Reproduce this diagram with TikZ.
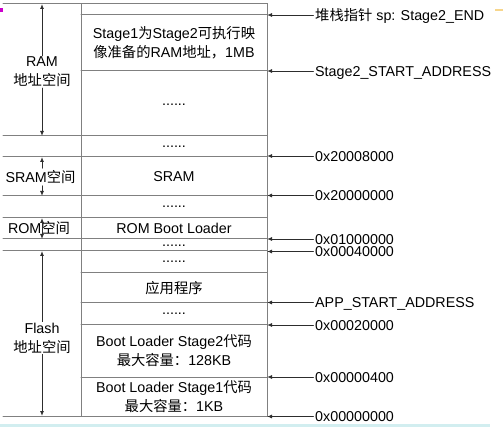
\documentclass[tikz,border=0pt]{standalone}
\usepackage{fontspec}
\setmainfont{Liberation Sans}
\newfontfamily\cjkfont{Noto Sans CJK SC}
\newcommand{\zh}[1]{{\cjkfont #1}}
\usetikzlibrary{arrows.meta}
\definecolor{boxgray}{RGB}{128,128,128}
\definecolor{ptrgray}{RGB}{45,45,45}
\definecolor{markmagenta}{RGB}{204,0,204}
\definecolor{markorange}{RGB}{247,214,140}
\definecolor{markcyan}{RGB}{210,238,240}

\begin{document}
\begin{tikzpicture}[x=1pt,y=-1pt,line cap=round,
  font=\fontsize{14.3pt}{19pt}\selectfont,
  sep/.style={boxgray,line width=1pt},
  ptr/.style={ptrgray,line width=0.9pt,-{Latex[length=5pt,width=4pt]}},
  dim/.style={ptrgray,line width=0.9pt,{Latex[length=5pt,width=4pt]}-{Latex[length=5pt,width=4pt]}},
  addr/.style={anchor=west,inner xsep=1.5pt,inner ysep=0pt,text height=10.2pt,text depth=0pt},
  cell/.style={align=center,inner sep=0pt},
  region/.style={align=center,fill=white,inner sep=1pt}]
  \useasboundingbox (0,0) rectangle (503,427);

  % screenshot edge marks
  \fill[markmagenta] (0,8.3) rectangle (3.4,11.7);
  \fill[markorange] (495,9.5) rectangle (503,11.5);
  \fill[markcyan] (0,424) rectangle (490,427);

  % --- memory column ---
  \node[draw=boxgray,line width=1pt,minimum width=186pt,minimum height=412pt,inner sep=0pt,outer sep=0pt] (mem) at (174,210) {};

  % separators out to the left edge
  \foreach \y in {4,136,157,196,218,239,251,416}
    \draw[sep] (3,\y) -- (267,\y);
  % separators inside the column only
  \foreach \y in {15,71,273,303,325,377}
    \draw[sep] (81,\y) -- (267,\y);

  % cell contents
  \node[cell] (stage1ram) at (174,43) {Stage1\zh{为}Stage2\zh{可执行映}\\\zh{像准备的}RAM\zh{地址，}1MB};
  \node[cell] (dotsA) at (174,105) {......};
  \node[cell] (dotsB) at (174,147) {......};
  \node[cell] (sram) at (174,176.5) {SRAM};
  \node[cell] (dotsC) at (174,207) {......};
  \node[cell,text height=10.2pt,text depth=0pt] (romboot) at (174,228) {ROM Boot Loader};
  \node[cell] (dotsD) at (174,245.5) {......};
  \node[cell] (dotsE) at (174,262) {......};
  \node[cell] (app) at (174,288) {\zh{应用程序}};
  \node[cell] (dotsF) at (174,314) {......};
  \node[cell] (stage2code) at (174,351) {Boot Loader Stage2\zh{代码}\\\zh{最大容量：}128KB};
  \node[cell] (stage1code) at (174,396.5) {Boot Loader Stage1\zh{代码}\\\zh{最大容量：}1KB};

  % --- address pointers ---
  \node[addr] (sp) at (313.5,15) {\zh{堆栈指针} sp: Stage2\_END};
  \node[addr] (s2start) at (313.5,71) {Stage2\_START\_ADDRESS};
  \node[addr] (a20008) at (313.5,156) {0x20008000};
  \node[addr] (a20000) at (313.5,195.5) {0x20000000};
  \node[addr] (a01000) at (313.5,239) {0x01000000};
  \node[addr] (a00040) at (313.5,251.5) {0x00040000};
  \node[addr] (appstart) at (313.5,302.5) {APP\_START\_ADDRESS};
  \node[addr] (a00020) at (313.5,325) {0x00020000};
  \node[addr] (a00004) at (313.5,377) {0x00000400};
  \node[addr] (a00000) at (313.5,416.5) {0x00000000};
  \foreach \a in {sp,s2start,a20008,a20000,a01000,a00040,appstart,a00020,a00004,a00000}
    \draw[ptr] (\a.west) -- (\a.west -| mem.east);

  % --- address spaces on the left ---
  \node[region] (ramlbl) at (42,72) {RAM\\\zh{地址空间}};
  \coordinate (ramtop) at (42,4);
  \coordinate (rambot) at (42,136);
  \draw[ptr] (ramlbl) -- (ramtop);
  \draw[ptr] (ramlbl) -- (rambot);

  \node[region,inner sep=2pt] (sramlbl) at (40.5,177) {SRAM\zh{空间}};
  \coordinate (sramtop) at (42,157);
  \coordinate (srambot) at (42,196);
  \draw[ptr] (sramlbl.north -| sramtop) -- (sramtop);
  \draw[ptr] (sramlbl.south -| srambot) -- (srambot);

  \node[cell] (romlbl) at (39,228.5) {ROM\zh{空间}};
  \coordinate (romtop) at (42,218);
  \coordinate (rombot) at (42,239);
  \draw[dim] (romtop) -- (rombot);

  \node[region] (flashlbl) at (42,338) {Flash\\\zh{地址空间}};
  \coordinate (flashtop) at (42,251);
  \coordinate (flashbot) at (42,416);
  \draw[ptr] (flashlbl) -- (flashtop);
  \draw[ptr] (flashlbl) -- (flashbot);
\end{tikzpicture}
\end{document}
